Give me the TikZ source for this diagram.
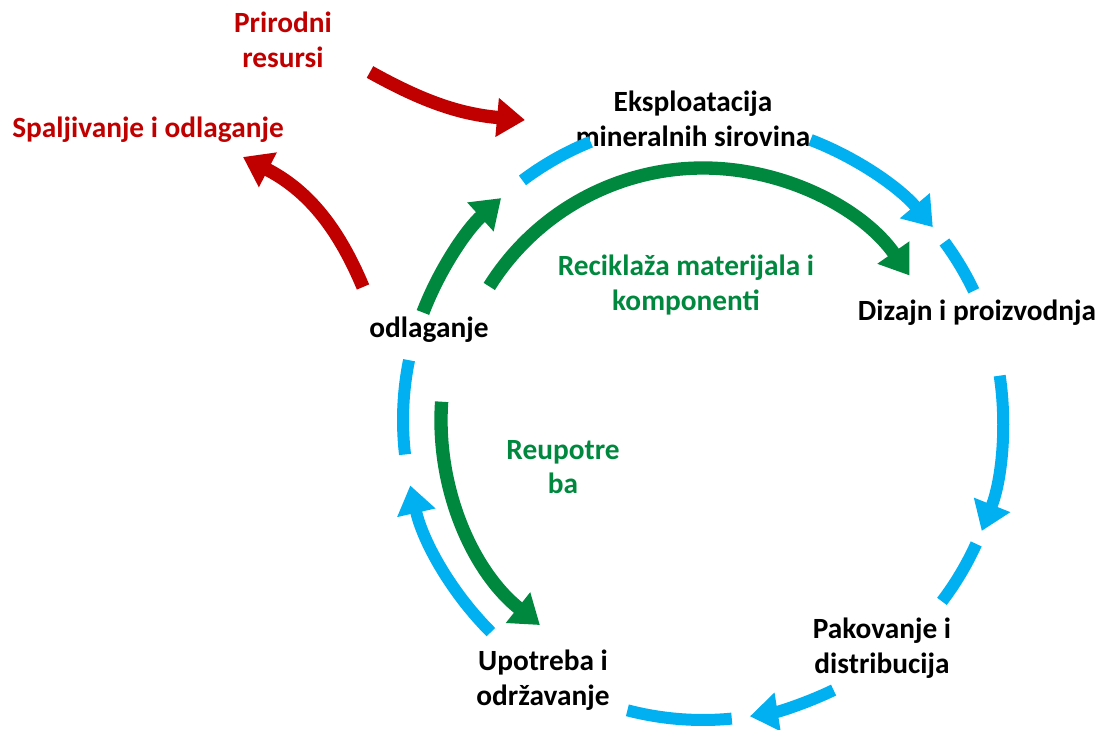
\documentclass[tikz,border=0pt]{standalone}
\usepackage{fontspec}
\setmainfont{Carlito}
\usepackage{xcolor}
\definecolor{skyblue}{RGB}{0,176,240}
\definecolor{ruby}{RGB}{192,0,0}
\definecolor{jade}{RGB}{0,137,62}
\usetikzlibrary{arrows.meta}

\begin{document}
\begin{tikzpicture}[x=0.75pt, y=0.75pt,
        lbl/.style={align=center, font=\bfseries\fontsize{22}{26}\selectfont},
        flow/.style={line width=9pt, skyblue},
        head/.style={-{Triangle[length=21pt, width=28pt]}},
        reuse/.style={line width=10pt, jade, head},
        loss/.style={line width=10pt, ruby, head}]
    \useasboundingbox (0,0) rectangle (1102,729);
    \coordinate (c) at (703,309);

    % stages of the cycle
    \node [lbl] (eksp) at (693,610) {Eksploatacija\\mineralnih sirovina};
    \node [lbl] (dizajn) at (977,416) {Dizajn i proizvodnja};
    \node [lbl] (pak) at (882,81) {Pakovanje i\\distribucija};
    \node [lbl] (upo) at (543,49) {Upotreba i\\održavanje};
    \node [lbl] (odl) at (429,399) {odlaganje};
    \node [lbl, jade] (recikl) at (686,444) {Reciklaža materijala i\\komponenti};
    \node [lbl, jade] (reupo) at (563,262) {Reupotre\\ba};
    \node [lbl, ruby] (prir) at (283,689) {Prirodni\\resursi};
    \node [lbl, ruby] (spalj) at (148,599) {Spaljivanje i odlaganje};

    % blue ring
    \foreach \a/\b in {127/112, 36.4/25.5, -24.4/-37.2, -84.5/-104.6, 186.6/168.5}
        \draw [flow] (c) ++(\a:300) arc [start angle=\a, end angle=\b, radius=300];
    \foreach \a/\b in {69/40, 8.5/-21.7, -64.2/-81, 225/192.6}
        \draw [flow, head] (c) ++(\a:300) arc [start angle=\a, end angle=\b, radius=300];

    % green loops
    \draw [reuse] (c) ++(159:300) arc [start angle=159, end angle=132.3, radius=300];
    \draw [reuse] (c) ++(148:252) arc [start angle=148, end angle=35, radius=252];
    \draw [reuse] (c) ++(176:262) arc [start angle=176, end angle=231.5, radius=262];

    % red inflow and outflow
    \coordinate (in1) at (370,657);
    \coordinate (in2) at (525,609);
    \coordinate (out1) at (363,442);
    \coordinate (out2) at (243,572);
    \draw [loss] (in1) to [bend right=12] (in2);
    \draw [loss] (out1) to [bend right=20] (out2);
\end{tikzpicture}
\end{document}
